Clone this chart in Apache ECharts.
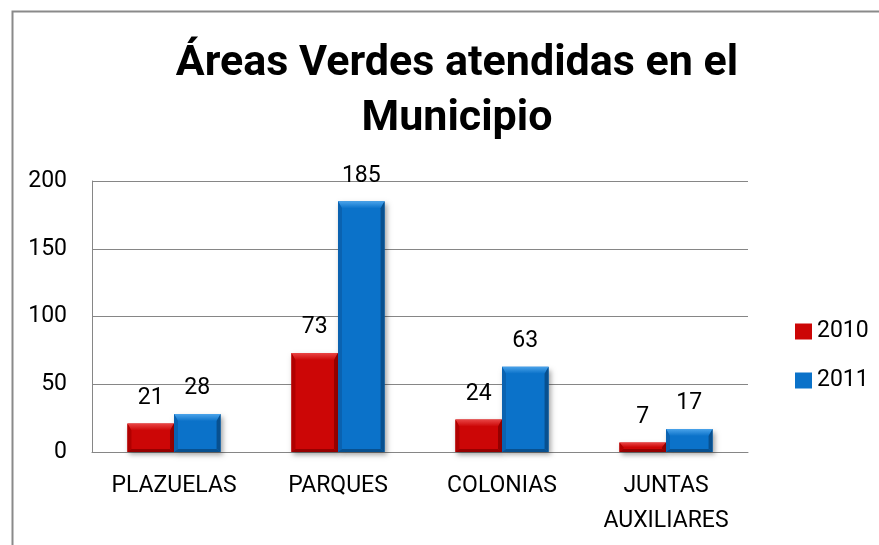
<!DOCTYPE html>
<html>
<head>
<meta charset="utf-8">
<script src="https://cdn.jsdelivr.net/npm/echarts@6/dist/echarts.min.js"></script>
<style>
html,body{margin:0;padding:0;background:#fff;}
#chart{width:879px;height:545px;}
</style>
</head>
<body>
<div id="chart"></div>
<script>
const titleText = 'Áreas Verdes atendidas en el\nMunicipio';
const categories = ['PLAZUELAS', 'PARQUES', 'COLONIAS', 'JUNTAS\nAUXILIARES'];
const seriesNames = ['2010', '2011'];
const values2010 = [21, 73, 24, 7];
const values2011 = [28, 185, 63, 17];
const yTicks = { min: 0, max: 200, interval: 50 };

const palettes = [
  { main: '#CC0606', light: '#E94545', side: '#B00000', dark: '#960000' },
  { main: '#0B72C9', light: '#4AA3EA', side: '#0A62B0', dark: '#08508F' }
];

function makeRender(idx) {
  const p = palettes[idx];
  return function (params, api) {
    const cat = api.value(0), val = api.value(1);
    const base = api.coord([cat, 0]);
    const top = api.coord([cat, val]);
    const band = api.size([1, 0])[0];
    const w = band * 0.284;
    const x0 = base[0] + (idx === 0 ? -w : 0);
    const y0 = top[1];
    const h = base[1] - top[1];
    const bt = Math.min(7, h / 2), bs = Math.min(4, w / 2), bb = Math.min(3, h / 3);
    return {
      type: 'group',
      children: [
        { type: 'rect', shape: { x: x0, y: y0, width: w, height: h },
          style: { fill: p.main, shadowBlur: 5, shadowOffsetX: 2, shadowOffsetY: 3, shadowColor: 'rgba(0,0,0,0.35)' } },
        { type: 'polygon', shape: { points: [[x0, y0], [x0 + w, y0], [x0 + w - bs, y0 + bt], [x0 + bs, y0 + bt]] },
          style: { fill: new echarts.graphic.LinearGradient(0, 0, 0, 1, [
            { offset: 0, color: p.light }, { offset: 1, color: p.main }]) } },
        { type: 'polygon', shape: { points: [[x0, y0], [x0 + bs, y0 + bt], [x0 + bs, y0 + h - bb], [x0, y0 + h]] },
          style: { fill: p.side } },
        { type: 'polygon', shape: { points: [[x0 + w, y0], [x0 + w, y0 + h], [x0 + w - bs, y0 + h - bb], [x0 + w - bs, y0 + bt]] },
          style: { fill: p.dark } },
        { type: 'polygon', shape: { points: [[x0, y0 + h], [x0 + bs, y0 + h - bb], [x0 + w - bs, y0 + h - bb], [x0 + w, y0 + h]] },
          style: { fill: p.dark } },
        { type: 'text', style: { text: String(val), x: x0 + w / 2, y: y0 - 14, align: 'center', verticalAlign: 'bottom',
          font: '23px Roboto', fill: '#000' } }
      ]
    };
  };
}

const chart = echarts.init(document.getElementById('chart'));
chart.setOption({
  animation: false,
  backgroundColor: '#fff',
  graphic: [{
    type: 'rect', left: 10, top: 9, shape: { x: 0, y: 0, width: 1000, height: 1000 },
    style: { fill: 'none', stroke: '#8a8a8a', lineWidth: 2 }, silent: true, z: -1
  }],
  title: {
    text: titleText,
    left: 452, textAlign: 'center', top: 32,
    textStyle: { fontFamily: 'Roboto', fontWeight: 'bold', fontSize: 43, lineHeight: 55, color: '#000' }
  },
  legend: {
    orient: 'vertical', left: 790, top: 315,
    itemWidth: 17, itemHeight: 16, itemGap: 26,
    icon: 'rect',
    data: seriesNames,
    textStyle: { fontFamily: 'Roboto', fontSize: 23, lineHeight: 23, color: '#000', padding: [0, 0, 0, 0] }
  },
  grid: { left: 92, right: 131, top: 181, bottom: 93, containLabel: false },
  xAxis: {
    type: 'category', data: categories,
    axisLine: { lineStyle: { color: '#868686', width: 1 } },
    axisTick: { show: false },
    axisLabel: { fontFamily: 'Roboto', fontSize: 23, lineHeight: 35, color: '#000', margin: 17, interval: 0 }
  },
  yAxis: {
    type: 'value', min: yTicks.min, max: yTicks.max, interval: yTicks.interval,
    axisLine: { show: true, lineStyle: { color: '#868686', width: 1 } },
    axisTick: { show: false },
    splitLine: { lineStyle: { color: '#868686', width: 1 } },
    axisLabel: { fontFamily: 'Roboto', fontSize: 23, color: '#000', margin: 25 }
  },
  series: [
    { name: seriesNames[0], type: 'custom', renderItem: makeRender(0), itemStyle: { color: palettes[0].main },
      encode: { x: 0, y: 1 }, data: values2010.map((v, i) => [i, v]) },
    { name: seriesNames[1], type: 'custom', renderItem: makeRender(1), itemStyle: { color: palettes[1].main },
      encode: { x: 0, y: 1 }, data: values2011.map((v, i) => [i, v]) }
  ]
});
</script>
</body>
</html>
